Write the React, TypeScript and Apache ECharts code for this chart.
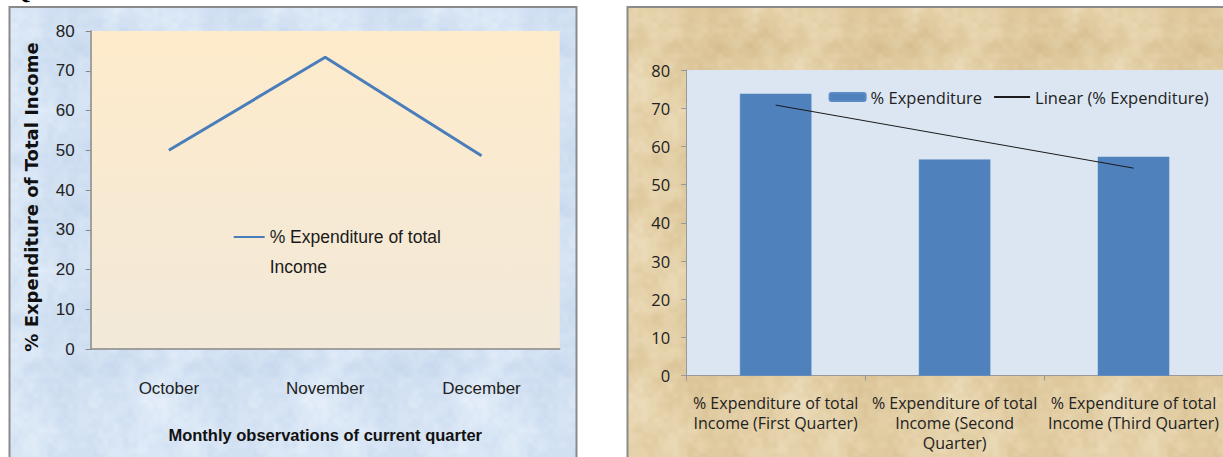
import React, { useEffect, useRef } from "react";
import * as echarts from "echarts";

const months = ["October", "November", "December"];
const monthlyExpenditure = [50.0, 73.4, 48.6];
const leftYTicks = { min: 0, max: 80, interval: 10 };

const quarters = [
  "% Expenditure of total\nIncome (First Quarter)",
  "% Expenditure of total\nIncome (Second\nQuarter)",
  "% Expenditure of total\nIncome (Third Quarter)",
];
const quarterExpenditure = [73.8, 56.6, 57.3];
const rightYTicks = { min: 0, max: 80, interval: 10 };

function linearTrend(values: number[]): number[] {
  const n = values.length;
  const mx = (n - 1) / 2;
  const my = values.reduce((a, b) => a + b, 0) / n;
  let num = 0;
  let den = 0;
  values.forEach((v, i) => {
    num += (i - mx) * (v - my);
    den += (i - mx) * (i - mx);
  });
  const slope = num / den;
  return values.map((_, i) => +(my + slope * (i - mx)).toFixed(2));
}

// deterministic mottled paper texture (decoration only)
function texture(base: number[], light: number[], dark: number[]): string | null {
  try {
    const size = 160;
    const cells = 8;
    const cell = size / cells;
    const c = document.createElement("canvas");
    c.width = size;
    c.height = size;
    const ctx = c.getContext("2d");
    if (!ctx) return null;
    const img = ctx.createImageData(size, size);
    const h = (x: number, y: number, s: number) => {
      const v = Math.sin((x % cells) * 127.1 + (y % cells) * 311.7 + s * 74.7) * 43758.5453;
      return v - Math.floor(v);
    };
    const sm = (t: number) => t * t * (3 - 2 * t);
    const noise = (px: number, py: number, k: number, s: number) => {
      const cs = size / k;
      const gx = px / cs;
      const gy = py / cs;
      const x0 = Math.floor(gx);
      const y0 = Math.floor(gy);
      const fx = sm(gx - x0);
      const fy = sm(gy - y0);
      const hh = (x: number, y: number) => {
        const v = Math.sin(((x % k) + k) % k * 127.1 + (((y % k) + k) % k) * 311.7 + s * 74.7) * 43758.5453;
        return v - Math.floor(v);
      };
      const a = hh(x0, y0), b = hh(x0 + 1, y0), c2 = hh(x0, y0 + 1), d = hh(x0 + 1, y0 + 1);
      return (a * (1 - fx) + b * fx) * (1 - fy) + (c2 * (1 - fx) + d * fx) * fy;
    };
    void h;
    void cell;
    for (let y = 0; y < size; y++) {
      for (let x = 0; x < size; x++) {
        const n = 0.5 * noise(x, y, 4, 1) + 0.3 * noise(x, y, 10, 2) + 0.2 * noise(x, y, 32, 3);
        const t = (n - 0.5) * 2.2;
        const tgt = t > 0 ? light : dark;
        const a = Math.min(1, Math.abs(t));
        const i = (y * size + x) * 4;
        img.data[i] = base[0] + (tgt[0] - base[0]) * a;
        img.data[i + 1] = base[1] + (tgt[1] - base[1]) * a;
        img.data[i + 2] = base[2] + (tgt[2] - base[2]) * a;
        img.data[i + 3] = 255;
      }
    }
    ctx.putImageData(img, 0, 0);
    return c.toDataURL("image/png");
  } catch (e) {
    return null;
  }
}

const NARROW = "'Liberation Sans', Arial, sans-serif";
const WIDE = "'Open Sans', 'Noto Sans', sans-serif";

export default function App() {
  const ref = useRef<HTMLDivElement>(null);
  useEffect(() => {
    if (!ref.current) return;
    const chart = echarts.init(ref.current, undefined, { renderer: "svg" });
    const trend = linearTrend(quarterExpenditure);
    const blueTex = texture([214, 228, 244], [236, 243, 252], [196, 214, 236]);
    const tanTex = texture([227, 207, 166], [240, 226, 196], [212, 186, 138]);
    const blueFill: any = blueTex
      ? { image: blueTex, repeat: "repeat" }
      : "#D6E4F4";
    const tanFill: any = tanTex ? { image: tanTex, repeat: "repeat" } : "#E3CFA6";
    chart.setOption({
      animation: false,
      backgroundColor: "#ffffff",
      graphic: [
        {
          type: "rect",
          z: -10,
          shape: { x: 9.5, y: 7, width: 567, height: 470 },
          style: { fill: blueFill, stroke: "#8A8A8A", lineWidth: 2 },
        },
        {
          type: "rect",
          z: -10,
          shape: { x: 627.5, y: 7, width: 620, height: 470 },
          style: { fill: tanFill, stroke: "#8A8A8A", lineWidth: 2 },
        },
        {
          type: "text",
          x: 12,
          y: 3,
          style: {
            text: "Quarters",
            font: "bold 24px 'Liberation Serif', serif",
            fill: "#000",
            verticalAlign: "bottom",
          },
        },
      ],
      grid: [
        {
          left: 90.7,
          top: 31,
          width: 469,
          height: 318,
          show: true,
          borderWidth: 0,
          backgroundColor: {
            type: "linear",
            x: 0, y: 0, x2: 0, y2: 1,
            colorStops: [
              { offset: 0, color: "#FEEBCB" },
              { offset: 1, color: "#F2E9D9" },
            ],
          },
        },
        {
          left: 686.2,
          top: 70,
          width: 542.4,
          height: 305.7,
          show: true,
          borderWidth: 0,
          backgroundColor: "#DCE6F2",
        },
      ],
      legend: [
        {
          data: [{ name: "% Expenditure of total Income", itemStyle: { opacity: 0 } }],
          left: 227.7,
          top: 187,
          itemWidth: 31,
          itemHeight: 14,
          itemGap: 0,
          formatter: () => " \n% Expenditure of total\nIncome",
          textStyle: {
            fontFamily: NARROW,
            fontSize: 17.5,
            color: "#1a1a1a",
            lineHeight: 30,
          },
        },
        {
          data: [
            { name: "% Expenditure" },
            { name: "Linear (% Expenditure)", itemStyle: { opacity: 0 } },
          ],
          left: 823.6,
          top: 83.5,
          itemWidth: 36,
          itemHeight: 8,
          itemGap: 11,
          textStyle: { fontFamily: WIDE, fontSize: 16.5, color: "#222" },
        },
      ],
      xAxis: [
        {
          type: "category",
          gridIndex: 0,
          data: months,
          boundaryGap: true,
          axisLine: { show: true, lineStyle: { color: "#888", width: 1.5 } },
          axisTick: { show: false },
          axisLabel: { fontFamily: NARROW, fontSize: 17, color: "#222", margin: 31 },
          name: "Monthly observations of current quarter",
          nameLocation: "middle",
          nameGap: 77,
          nameTextStyle: { fontFamily: NARROW, fontSize: 16.5, fontWeight: "bold", color: "#111" },
        },
        {
          type: "category",
          gridIndex: 1,
          data: quarters,
          boundaryGap: true,
          axisLine: { show: true, lineStyle: { color: "#999", width: 1 } },
          axisTick: { show: true, length: 5, lineStyle: { color: "#999" } },
          axisLabel: {
            fontFamily: WIDE,
            fontSize: 16,
            color: "#222",
            lineHeight: 20,
            margin: 17,
            interval: 0,
          },
        },
      ],
      yAxis: [
        {
          type: "value",
          gridIndex: 0,
          min: leftYTicks.min,
          max: leftYTicks.max,
          interval: leftYTicks.interval,
          splitLine: { show: false },
          axisLine: { show: true, lineStyle: { color: "#888", width: 1.5 } },
          axisTick: { show: true, length: 5, lineStyle: { color: "#888" } },
          axisLabel: { fontFamily: NARROW, fontSize: 17, color: "#222", margin: 16 },
          name: "% Expenditure of Total Income",
          nameLocation: "middle",
          nameGap: 50,
          nameTextStyle: {
            fontFamily: "'DejaVu Sans', sans-serif",
            fontSize: 18,
            fontWeight: "bold",
            color: "#111",
            padding: [0, 14, 0, 0],
          },
        },
        {
          type: "value",
          gridIndex: 1,
          min: rightYTicks.min,
          max: rightYTicks.max,
          interval: rightYTicks.interval,
          splitLine: { show: false },
          axisLine: { show: true, lineStyle: { color: "#999", width: 1 } },
          axisTick: { show: true, length: 5, lineStyle: { color: "#999" } },
          axisLabel: { fontFamily: WIDE, fontSize: 16.5, color: "#222", margin: 16 },
        },
      ],
      series: [
        {
          name: "% Expenditure of total Income",
          type: "line",
          xAxisIndex: 0,
          yAxisIndex: 0,
          data: monthlyExpenditure,
          symbol: "none",
          color: "#4A7EBB",
          lineStyle: { width: 3, color: "#4A7EBB" },
        },
        {
          name: "% Expenditure",
          type: "bar",
          xAxisIndex: 1,
          yAxisIndex: 1,
          data: quarterExpenditure,
          barWidth: "40%",
          itemStyle: { color: "#4F81BD", borderColor: "#5B8AC4", borderWidth: 0.5 },
        },
        {
          name: "Linear (% Expenditure)",
          type: "line",
          xAxisIndex: 1,
          yAxisIndex: 1,
          data: trend,
          symbol: "none",
          color: "#1A1A1A",
          lineStyle: { width: 1, color: "#1A1A1A" },
        },
      ],
    });
    return () => chart.dispose();
  }, []);
  return (
    <div
      ref={ref}
      style={{ position: "absolute", left: 0, top: 0, width: 1223, height: 457 }}
    />
  );
}
